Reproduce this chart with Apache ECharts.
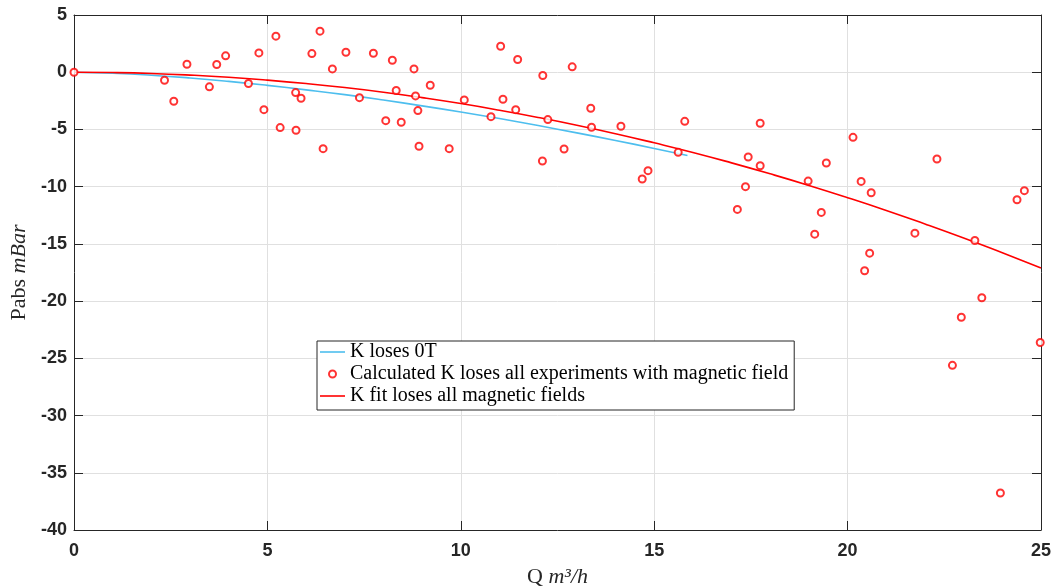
<!DOCTYPE html>
<html>
<head>
<meta charset="utf-8">
<script src="https://cdn.jsdelivr.net/npm/echarts@6/dist/echarts.min.js"></script>
<style>
  html, body { margin: 0; padding: 0; background: #fff; }
  #chart { width: 1056px; height: 588px; }
</style>
</head>
<body>
<div id="chart"></div>
<script>
// K loses 0T curve
const zeroTQ = [0, 1, 2, 3, 4, 5, 6, 7, 8, 9, 10, 11, 12, 13, 14, 15, 15.86];
const zeroTP = [0, -0.09, -0.26, -0.5, -0.8, -1.15, -1.54, -1.96, -2.43, -2.94, -3.48, -4.05, -4.66, -5.3, -5.96, -6.66, -7.27];

// K fit for all magnetic fields (red line)
const fitQ = [0, 1, 2, 3, 4, 5, 6, 7, 8, 9, 10, 11, 12, 13, 14, 15, 16, 17, 18, 19, 20, 21, 22, 23, 24, 25];
const fitP = [0, -0.03, -0.11, -0.25, -0.44, -0.69, -0.99, -1.34, -1.75, -2.22, -2.74, -3.32, -3.95, -4.63, -5.37, -6.17,
              -7.01, -7.92, -8.88, -9.89, -10.96, -12.08, -13.26, -14.49, -15.78, -17.1];

// calculated K loses, experiments with magnetic field
const expQ = [0, 2.34, 2.58, 2.92, 3.50, 3.69, 3.92, 4.51, 4.78, 4.91, 5.22, 5.33, 5.73, 5.74, 5.87, 6.15, 6.36, 6.44, 6.68,
              7.03, 7.38, 7.74, 8.06, 8.23, 8.33, 8.46, 8.79, 8.83, 8.89, 8.92, 9.21, 9.70, 10.09, 10.78, 11.03, 11.09,
              11.47, 11.42, 12.12, 12.11, 12.25, 12.67, 12.88, 13.36, 13.38, 14.14, 14.69, 14.84, 15.62, 15.79, 17.74,
              17.43, 17.74, 17.36, 18.98, 19.45, 20.14, 20.35, 20.61, 22.31, 24.57, 24.38, 17.15, 19.32, 19.15, 20.57,
              20.44, 21.74, 23.29, 23.47, 22.94, 24.98, 22.71, 23.95];
const expP = [0, -0.70, -2.54, 0.70, -1.28, 0.67, 1.43, -0.99, 1.69, -3.27, 3.15, -4.84, -1.78, -5.07, -2.27, 1.63, 3.59, -6.68, 0.29,
              1.75, -2.22, 1.66, -4.23, 1.05, -1.60, -4.37, 0.29, -2.07, -3.35, -6.47, -1.14, -6.68, -2.42, -3.88, 2.27, -2.36,
              1.11, -3.27, -0.29, -7.76, -4.14, -6.71, 0.47, -3.15, -4.81, -4.72, -9.33, -8.60, -7.00, -4.29, -4.46,
              -7.41, -8.17, -10.0, -9.51, -7.93, -5.69, -9.54, -10.53, -7.58, -10.35, -11.14, -11.99, -12.25, -14.15, -15.81,
              -17.35, -14.06, -14.70, -19.71, -21.41, -23.62, -25.61, -36.77];

const xTicks = [0, 5, 10, 15, 20, 25];
const yTicks = [5, 0, -5, -10, -15, -20, -25, -30, -35, -40];

const pair = (xs, ys) => xs.map((x, i) => [x, ys[i]]);

const axisColor = '#262626';
const gridColor = '#e0e0e0';
const tickFont = { fontFamily: 'Liberation Sans', fontWeight: 'bold', fontSize: 18, color: axisColor };
const serif = 'Liberation Serif';
const lineIcon = 'path://M0,0H25V1.6H0Z';

function boxAxis(extra) {
    return Object.assign({
        type: 'value',
        axisLine: { show: true, onZero: false, lineStyle: { color: axisColor, width: 1 } },
        axisTick: { show: true, inside: true, length: 9, lineStyle: { color: axisColor } },
        axisLabel: { show: false },
        splitLine: { show: false }
    }, extra);
}

const chart = echarts.init(document.getElementById('chart'));
chart.setOption({
    animation: false,
    backgroundColor: '#fff',
    grid: { left: 74, top: 15, right: 15, bottom: 58, outerBoundsMode: 'none' },
    xAxis: [
        boxAxis({
            min: xTicks[0], max: xTicks[xTicks.length - 1], interval: 5,
            name: '{n|Q }{i|m³/h}', nameLocation: 'middle', nameGap: 36,
            nameTextStyle: { rich: {
                n: { fontFamily: serif, fontSize: 22, color: axisColor },
                i: { fontFamily: serif, fontStyle: 'italic', fontSize: 22, color: axisColor }
            } },
            axisLabel: Object.assign({ show: true, margin: 12 }, tickFont),
            splitLine: { show: true, lineStyle: { color: gridColor, width: 1 } }
        }),
        boxAxis({ position: 'top', min: xTicks[0], max: xTicks[xTicks.length - 1], interval: 5 })
    ],
    yAxis: [
        boxAxis({
            min: yTicks[yTicks.length - 1], max: yTicks[0], interval: 5,
            name: '{n|Pabs }{i|mBar}', nameLocation: 'middle', nameGap: 42, nameRotate: 90,
            nameTextStyle: { rich: {
                n: { fontFamily: serif, fontSize: 22, color: axisColor },
                i: { fontFamily: serif, fontStyle: 'italic', fontSize: 22, color: axisColor }
            } },
            axisLabel: Object.assign({ show: true, margin: 7 }, tickFont),
            splitLine: { show: true, lineStyle: { color: gridColor, width: 1 } }
        }),
        boxAxis({ position: 'right', min: yTicks[yTicks.length - 1], max: yTicks[0], interval: 5 })
    ],
    legend: {
        left: 317, top: 341,
        orient: 'vertical',
        backgroundColor: '#fff',
        borderColor: axisColor, borderWidth: 1, borderRadius: 0,
        padding: [0, 6, 3, 3],
        itemGap: 0,
        itemWidth: 25, itemHeight: 7,
        textStyle: { fontFamily: serif, fontSize: 20, lineHeight: 22, color: '#000' },
        data: [
            { name: 'K loses 0T', icon: lineIcon },
            { name: 'Calculated K loses all experiments with magnetic field', icon: 'emptyCircle' },
            { name: 'K fit loses all magnetic fields', icon: lineIcon }
        ]
    },
    series: [
        {
            name: 'K loses 0T', type: 'line', symbol: 'none', smooth: true,
            data: pair(zeroTQ, zeroTP),
            lineStyle: { color: '#4DBEEE', width: 1.6 },
            itemStyle: { color: '#4DBEEE' }
        },
        {
            name: 'Calculated K loses all experiments with magnetic field', type: 'scatter',
            symbol: 'emptyCircle', symbolSize: 7,
            data: pair(expQ, expP),
            itemStyle: { color: '#ff0000', borderColor: '#ff0000', borderWidth: 1.5 },
            z: 3
        },
        {
            name: 'K fit loses all magnetic fields', type: 'line', symbol: 'none', smooth: true,
            data: pair(fitQ, fitP),
            lineStyle: { color: '#ff0000', width: 1.6 },
            itemStyle: { color: '#ff0000' }
        }
    ]
});
</script>
</body>
</html>
